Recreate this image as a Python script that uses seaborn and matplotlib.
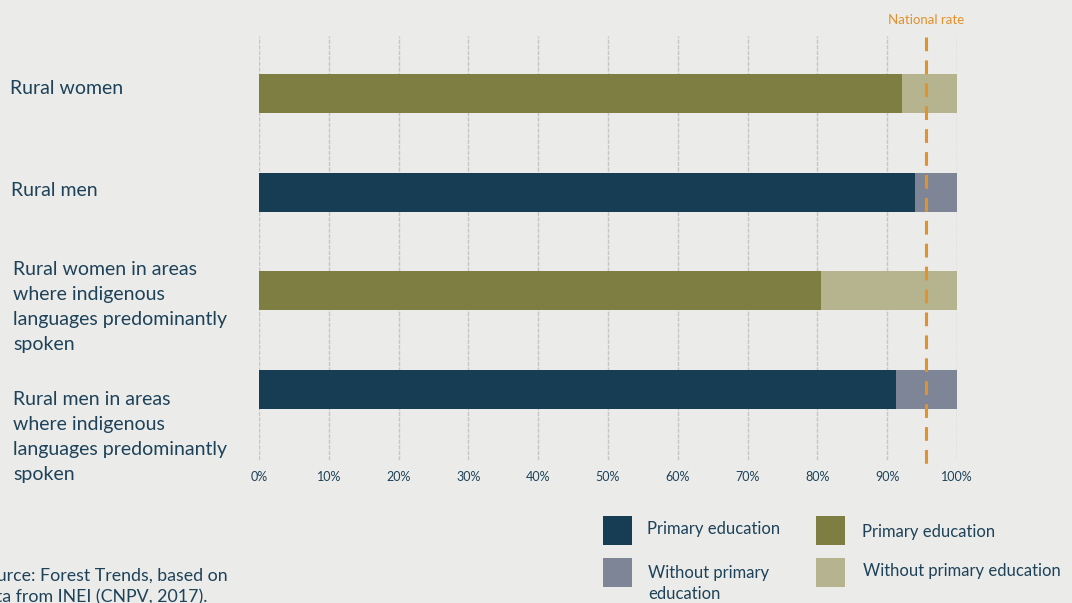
import matplotlib
matplotlib.use("Agg")
import matplotlib.pyplot as plt
import seaborn as sns
import pandas as pd
from matplotlib.patches import Rectangle

# ---- data ----
categories = [
    "Rural women",
    "Rural men",
    "Rural women in areas\nwhere indigenous\nlanguages predominantly\nspoken",
    "Rural men in areas\nwhere indigenous\nlanguages predominantly\nspoken",
]
primary = [92.1, 94.0, 80.5, 91.3]
without_primary = [7.9, 6.0, 19.5, 8.7]
national_rate = 95.6
xticks = [0, 10, 20, 30, 40, 50, 60, 70, 80, 90, 100]
xtick_labels = [f"{v}%" for v in xticks]

# ---- styling ----
BG = "#ebebe9"
TEXT = "#1d4259"
BLUE = "#173d55"
GREY = "#7d8597"
OLIVE = "#7e7e42"
KHAKI = "#b6b38f"
ORANGE = "#e3912c"

sns.set_theme(style="white")
plt.rcParams["font.family"] = ["Lato", "DejaVu Sans"]

W, H = 1072, 603
fig = plt.figure(figsize=(W / 100, H / 100), dpi=100, facecolor=BG)
ax_left, ax_right, ax_top, ax_bot = 259, 957, 36, 460
ax = fig.add_axes([ax_left / W, 1 - ax_bot / H, (ax_right - ax_left) / W, (ax_bot - ax_top) / H])
ax.set_facecolor(BG)

df = pd.DataFrame({
    "cat": categories,
    "primary": primary,
    "without": without_primary,
})
df["total"] = df["primary"] + df["without"]

light = [KHAKI, GREY, KHAKI, GREY]
dark = [OLIVE, BLUE, OLIVE, BLUE]

# grid first
for v in xticks:
    ax.axvline(v, color="#c6c6c6", lw=1.0, ls=(0, (3, 1)), zorder=0)

sns.barplot(data=df, y="cat", x="total", hue="cat", palette=light, legend=False,
            orient="h", width=0.395, ax=ax, zorder=2, saturation=1, linewidth=0)
sns.barplot(data=df, y="cat", x="primary", hue="cat", palette=dark, legend=False,
            orient="h", width=0.395, ax=ax, zorder=3, saturation=1, linewidth=0)

ax.set_xlim(0, 100)
ax.set_ylim(3.714, -0.583)
ax.set_xticks(xticks)
ax.set_xticklabels(xtick_labels, fontsize=9, color=TEXT)
ax.tick_params(axis="x", length=0, pad=8)
ax.set_yticks([])
ax.set_xlabel("")
ax.set_ylabel("")
for s in ax.spines.values():
    s.set_visible(False)

# national rate line
ax.plot([national_rate, national_rate], [-0.57, 3.84], color=ORANGE, lw=2.2,
        ls=(0, (4.5, 3)), clip_on=False, zorder=4)
fig.text(926 / W, 1 - 20 / H, "National rate", color=ORANGE, fontsize=9.5,
         ha="center", va="center")

# category labels (left aligned)
label_pos = [(10, 89), (11, 190), (13, 307), (13, 437)]
for lab, (px, py) in zip(categories, label_pos):
    fig.text(px / W, 1 - py / H, lab, color=TEXT, fontsize=14, ha="left",
             va="center", linespacing=1.57)

# legend
def leg_item(x, y, color, label, tx, ty):
    fig.add_artist(Rectangle((x / W, 1 - (y + 29) / H), 29 / W, 29 / H,
                             transform=fig.transFigure, color=color, lw=0))
    fig.text(tx / W, 1 - ty / H, label, color=TEXT, fontsize=12, ha="left",
             va="top", linespacing=1.38)

leg_item(603, 516, BLUE, "Primary education", 647, 521)
leg_item(603, 558, GREY, "Without primary\neducation", 648, 565)
leg_item(816, 516, OLIVE, "Primary education", 862, 524)
leg_item(816, 558, KHAKI, "Without primary education", 863, 563)

# source (cut at left edge as in the reference)
fig.text(-23 / W, 1 - 568 / H, "Source: Forest Trends, based on\ndata from INEI (CNPV, 2017).",
         color=TEXT, fontsize=12.8, ha="left", va="top", linespacing=1.4)

fig.savefig("out.png", dpi=100, facecolor=BG)
